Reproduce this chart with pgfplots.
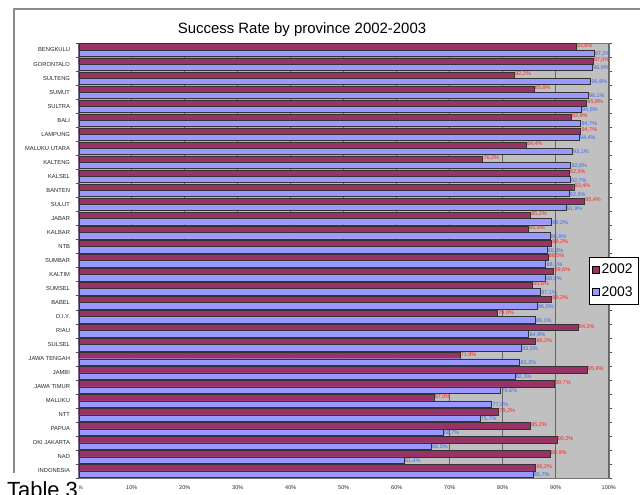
\documentclass[border=0pt]{standalone}
\usepackage{pgfplots}
\pgfplotsset{compat=1.18}
\usepackage{pgfplotstable}
\usepackage{fontspec}
\setmainfont{Liberation Sans}
\definecolor{cA}{HTML}{993366}
\definecolor{cB}{HTML}{9999FF}
\definecolor{plotbg}{HTML}{C0C0C0}
\definecolor{labA}{HTML}{FF2020}
\definecolor{labB}{HTML}{3366FF}
\pgfplotstableread{
y a b
0 86.2 85.7
1 88.9 61.4
2 90.2 66.5
3 85.2 68.7
4 79.2 75.7
5 67.0 77.9
6 89.7 79.6
7 95.9 82.3
8 71.9 83.2
9 86.2 83.5
10 94.2 84.9
11 79.0 86.1
12 89.2 86.5
13 85.6 87.1
14 89.6 88.0
15 88.5 88.1
16 89.2 88.3
17 84.8 88.9
18 85.2 89.2
19 95.4 91.9
20 93.4 92.5
21 92.5 92.7
22 76.2 92.8
23 84.4 93.1
24 94.7 94.4
25 92.9 94.7
26 95.8 94.8
27 85.9 96.1
28 82.2 96.6
29 97.0 96.9
30 93.8 97.2
}\datatable
\begin{document}
\begin{tikzpicture}[x=1bp,y=1bp]
\useasboundingbox (0,0) rectangle (640,495);
\fill[white] (0,0) rectangle (640,495);
\draw[line width=1.2bp, color=black!45] (14,22) -- (14,486) -- (640,486);
\begin{axis}[
  at={(78.7bp,17bp)}, anchor=south west,
  scale only axis, width=530bp, height=435bp,
  xmin=0, xmax=100, ymin=-0.5, ymax=30.5,
  axis background/.style={fill=plotbg},
  axis line style={draw=black!55},
  xtick={0,10,...,100},
  xticklabels={0\%,10\%,20\%,30\%,40\%,50\%,60\%,70\%,80\%,90\%,100\%},
  xtick style={draw=none},
  xmajorgrids, grid style={draw=black!60, line width=0.6bp},
  ytick={0,...,30},
  yticklabels={INDONESIA,NAD,DKI JAKARTA,PAPUA,NTT,MALUKU,JAWA TIMUR,JAMBI,JAWA TENGAH,SULSEL,RIAU,D.I.Y.,BABEL,SUMSEL,KALTIM,SUMBAR,NTB,KALBAR,JABAR,SULUT,BANTEN,KALSEL,KALTENG,MALUKU UTARA,LAMPUNG,BALI,SULTRA,SUMUT,SULTENG,GORONTALO,BENGKULU},
  major y tick style={draw=none},
  minor ytick={-0.5,0.5,...,30.5},
  minor y tick style={draw=black!70},
  minor tick length=3bp, tick align=outside,
  yticklabel style={font=\fontsize{5.8}{6}\selectfont, color=black!85, xshift=-1bp},
  xticklabel style={font=\fontsize{5.5}{6}\selectfont, color=black!85},
  xbar, bar width=0.45,
  point meta=x,
  nodes near coords={\pgfmathprintnumber[use comma,fixed,fixed zerofill,precision=1,assume math mode=true]{\pgfplotspointmeta}\%},
  nodes near coords style={font=\fontsize{5.5}{6}\selectfont, anchor=west, inner sep=0.8bp},
  legend style={at={(axis description cs:0.963,0.508)}, anchor=north west, draw=black, fill=white,
    font=\fontsize{14}{16}\selectfont, inner xsep=3bp, inner ysep=5bp, row sep=7bp},
  legend cell align=left,
]
\addplot[bar shift=0.225, fill=cA, draw=black!80, line width=0.4bp,
  nodes near coords style={text=labA, yshift=1bp},
  legend image code/.code={\draw[fill=cA,draw=black] (0bp,-3.5bp) rectangle (7bp,3.5bp);}]
  table[x=a,y=y]{\datatable};
\addplot[bar shift=-0.225, fill=cB, draw=black!80, line width=0.4bp,
  nodes near coords style={text=labB, yshift=-1bp},
  legend image code/.code={\draw[fill=cB,draw=black] (0bp,-3.5bp) rectangle (7bp,3.5bp);}]
  table[x=b,y=y]{\datatable};
\legend{2002,2003}
\end{axis}
\node[anchor=base, font=\fontsize{15}{18}\selectfont] at (302,461) {Success Rate by province 2002-2003};
\node[anchor=base west, font=\fontsize{22}{26}\selectfont, fill=white, inner sep=1bp] at (6,-2.5) {Table 3};
\end{tikzpicture}
\end{document}
